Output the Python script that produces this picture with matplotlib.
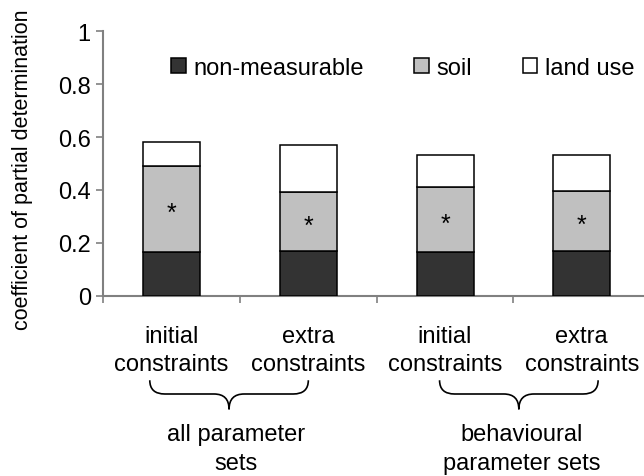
import numpy as np
import matplotlib
matplotlib.use("Agg")
import matplotlib.pyplot as plt
from matplotlib.path import Path
from matplotlib.patches import PathPatch
from matplotlib.transforms import blended_transform_factory

plt.rcParams['font.family'] = ['Liberation Sans', 'DejaVu Sans']

# coefficient of partial determination, split by factor group
categories = ["initial\nconstraints", "extra\nconstraints",
              "initial\nconstraints", "extra\nconstraints"]
non_measurable = [0.164, 0.170, 0.164, 0.170]
soil = [0.328, 0.221, 0.248, 0.227]
land_use = [0.090, 0.179, 0.121, 0.136]
soil_significant = [True, True, True, True]

groups = ["all parameter\nsets", "behavioural\nparameter sets"]
group_spans = [(-0.16, 1.0), (1.96, 3.12)]
group_label_x = [0.47, 2.56]

FS = 17
GREY = "#808080"

fig = plt.figure(figsize=(6.44, 4.77), dpi=100)
ax = fig.add_axes([0.1604, 0.378, 0.849, 0.554])

x = np.arange(len(categories))
nm = np.array(non_measurable)
so = np.array(soil)
lu = np.array(land_use)
w = 0.417
kw = dict(width=w, edgecolor="black", linewidth=1.1, zorder=3)
ax.bar(x, nm, color="#333333", label="non-measurable", **kw)
ax.bar(x, so, bottom=nm, color="#c0c0c0", label="soil", **kw)
ax.bar(x, lu, bottom=nm + so, color="white", label="land use", **kw)

# significance markers in the middle of the soil segment
for xi, b, h, sig in zip(x, nm, so, soil_significant):
    if sig:
        ax.text(xi, b + h / 2 - 0.015, "*", ha="center", va="center",
                fontsize=FS + 1, zorder=4)

ax.set_xlim(-0.5, 3.5)
ax.set_ylim(0, 1)
ax.set_yticks([0, 0.2, 0.4, 0.6, 0.8, 1])
ax.set_yticklabels(["0", "0.2", "0.4", "0.6", "0.8", "1"])
ax.tick_params(axis="y", direction="out", length=5, width=1.2,
               color=GREY, labelsize=FS, pad=4)

ax.set_xticks(x)
ax.set_xticklabels(categories, fontsize=FS, linespacing=1.38)
ax.set_xticks(np.arange(-0.5, 3.5, 1.0), minor=True)
ax.tick_params(axis="x", which="major", length=0, pad=21)
ax.tick_params(axis="x", which="minor", direction="out", length=5,
               width=1.2, color=GREY)

for s in ("top", "right"):
    ax.spines[s].set_visible(False)
for s in ("left", "bottom"):
    ax.spines[s].set_color(GREY)
    ax.spines[s].set_linewidth(1.5)

ax.set_ylabel("coefficient of partial determination", fontsize=15.5)
ax.yaxis.set_label_coords(-0.129, 0.48)

ax.legend(loc="center left", bbox_to_anchor=(0.0857, 0.862), ncol=3,
          frameon=False, fontsize=FS, handlelength=0.6, handleheight=0.6,
          handletextpad=0.35, columnspacing=2.12)

# curly braces grouping the categories
tr = blended_transform_factory(ax.transData, ax.transAxes)
y_top, y_arm, y_tip = -0.32, -0.372, -0.43
r = 0.11
for (x0, x1), gx, label in zip(group_spans, group_label_x, groups):
    xc = (x0 + x1) / 2
    verts = [(x0, y_top), (x0, y_arm), (x0 + r, y_arm),
             (xc - r, y_arm), (xc, y_arm), (xc, y_tip),
             (xc, y_arm), (xc + r, y_arm),
             (x1 - r, y_arm), (x1, y_arm), (x1, y_top)]
    codes = [Path.MOVETO, Path.CURVE3, Path.CURVE3,
             Path.LINETO, Path.CURVE3, Path.CURVE3,
             Path.CURVE3, Path.CURVE3,
             Path.LINETO, Path.CURVE3, Path.CURVE3]
    ax.add_patch(PathPatch(Path(verts, codes), transform=tr, fill=False,
                           lw=1.2, color="black", clip_on=False))
    ax.text(gx, -0.483, label, transform=tr, ha="center", va="top",
            fontsize=FS, linespacing=1.38, clip_on=False)

fig.savefig("out.png", dpi=100)
